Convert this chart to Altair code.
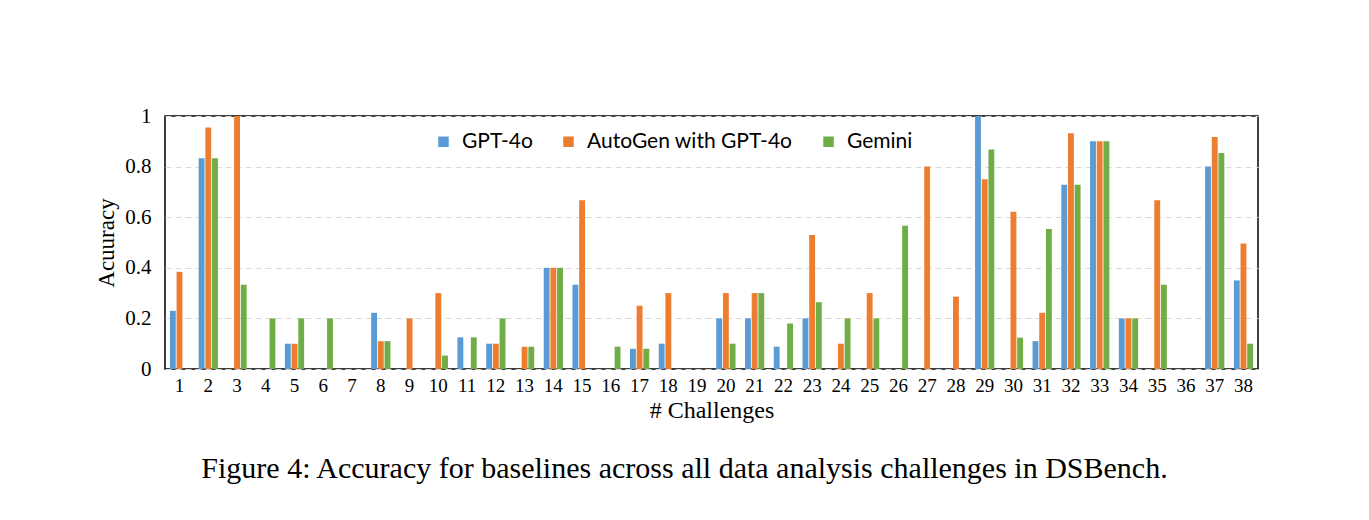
import altair as alt
import pandas as pd

challenges = list(range(1, 39))
series_names = ["GPT-4o", "AutoGen with GPT-4o", "Gemini"]
series_colors = ["#5B9BD5", "#ED7D31", "#70AD47"]

gpt4o = [0.23, 0.833, 0, 0, 0.1, 0, 0, 0.222, 0, 0, 0.125, 0.1, 0, 0.4, 0.333, 0, 0.08, 0.1, 0,
         0.2, 0.2, 0.088, 0.2, 0, 0, 0, 0, 0, 1.0, 0, 0.11, 0.728, 0.9, 0.2, 0, 0, 0.8, 0.35]
autogen = [0.384, 0.955, 1.0, 0, 0.1, 0, 0, 0.11, 0.2, 0.3, 0, 0.1, 0.088, 0.4, 0.667, 0, 0.25, 0.3, 0,
           0.3, 0.3, 0, 0.53, 0.1, 0.3, 0, 0.8, 0.286, 0.75, 0.622, 0.222, 0.932, 0.9, 0.2, 0.667, 0, 0.917, 0.496]
gemini = [0, 0.833, 0.333, 0.2, 0.2, 0.2, 0, 0.11, 0, 0.053, 0.125, 0.2, 0.088, 0.4, 0, 0.088, 0.08, 0, 0,
          0.1, 0.3, 0.18, 0.264, 0.2, 0.2, 0.566, 0, 0, 0.868, 0.124, 0.553, 0.728, 0.9, 0.2, 0.333, 0, 0.854, 0.1]

rows = []
for name, vals in zip(series_names, [gpt4o, autogen, gemini]):
    for c, v in zip(challenges, vals):
        rows.append({"Challenge": str(c), "Series": name, "Accuracy": v})
df = pd.DataFrame(rows)

serif = "Liberation Serif"

chart = alt.Chart(df).mark_bar().encode(
    x=alt.X("Challenge:N", sort=[str(c) for c in challenges],
            scale=alt.Scale(paddingInner=0.33, paddingOuter=0.17),
            axis=alt.Axis(title="# Challenges", labelAngle=0, ticks=False, domain=False,
                          labelFont=serif, labelFontSize=19, labelColor="black", labelPadding=7,
                          titleFont=serif, titleFontSize=24, titleFontWeight="normal",
                          titleColor="black", titlePadding=3)),
    xOffset=alt.XOffset("Series:N", sort=series_names, scale=alt.Scale(paddingInner=0.12)),
    y=alt.Y("Accuracy:Q", scale=alt.Scale(domain=[0, 1]),
            axis=alt.Axis(title="Acuuracy", values=[0, 0.2, 0.4, 0.6, 0.8, 1],
                          labelExpr="datum.value == 0 ? '0' : datum.value == 1 ? '1' : format(datum.value, '.1f')",
                          ticks=False, domain=False, grid=True, gridDash=[6, 4], gridColor="#D9D9D9",
                          labelFont=serif, labelFontSize=21, labelColor="black", labelPadding=14,
                          titleFont=serif, titleFontSize=23, titleFontWeight="normal",
                          titleColor="black", titlePadding=6)),
    color=alt.Color("Series:N", sort=series_names,
                    scale=alt.Scale(domain=series_names, range=series_colors),
                    legend=alt.Legend(title=None, orient="none", direction="horizontal",
                                      legendX=268, legendY=15, symbolType="square", symbolSize=110,
                                      symbolStrokeWidth=0, labelFont="Lato", labelFontSize=21,
                                      labelColor="black", labelOffset=8, columnPadding=25,
                                      labelLimit=500)),
).properties(
    width=1093, height=253,
    title=alt.TitleParams("Figure 4: Accuracy for baselines across all data analysis challenges in DSBench.",
                          orient="bottom", font=serif, fontSize=30, fontWeight="normal",
                          color="black", offset=32, anchor="middle", dx=-27),
    autosize=alt.AutoSizeParams(type="none"),
    padding={"left": 165, "top": 116, "right": 111, "bottom": 151},
    background="white",
).configure_view(stroke="black", strokeWidth=1.5)

chart.save("out.html", embed_options={"renderer": "svg", "actions": False})
